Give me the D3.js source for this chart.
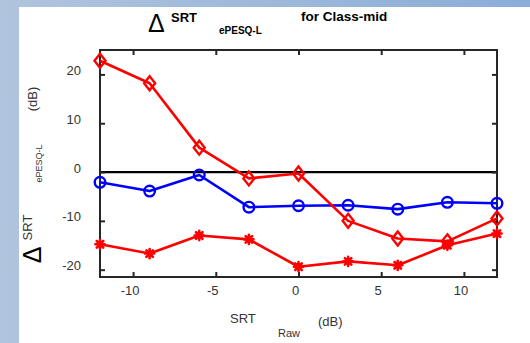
<!DOCTYPE html>
<html>
<head>
<meta charset="utf-8">
<script src="https://cdn.jsdelivr.net/npm/d3@7"></script>
<style>
  html, body { margin: 0; padding: 0; background: #fff; }
  svg { display: block; }
  text { font-family: "Liberation Sans", Arial, sans-serif; }
</style>
</head>
<body>
<svg id="chart" width="530" height="343"></svg>
<script>
// SNR levels (dB) at which the speech reception threshold was measured
const snrRaw = [-12, -9, -6, -3, 0, 3, 6, 9, 12];

// Delta SRT (ePESQ-L) per condition, in dB
const diamondSeries = [22.8, 18.2, 5.0, -1.3, -0.3, -10.0, -13.6, -14.2, -9.5];
const circleSeries  = [-2.1, -3.9, -0.6, -7.2, -6.9, -6.8, -7.6, -6.2, -6.4];
const starSeries    = [-14.8, -16.7, -13.0, -13.8, -19.4, -18.3, -19.1, -15.0, -12.6];

const xTicks = [-10, -5, 0, 5, 10];
const yTicks = [-20, -10, 0, 10, 20];
const xDomain = [-12, 12];
const yDomain = [-21.5, 25];

const svg = d3.select("#chart");
const W = 530, H = 343;
const plot = { left: 100, right: 497, top: 50, bottom: 277 };

// window background with the white figure panel on top
const defs = svg.append("defs");
const grad = defs.append("linearGradient").attr("id", "bg").attr("x1", "0").attr("x2", "1").attr("y1", "0").attr("y2", "0");
grad.append("stop").attr("offset", "0").attr("stop-color", "#b1c4dd");
grad.append("stop").attr("offset", "1").attr("stop-color", "#8badd8");
svg.append("rect").attr("width", W).attr("height", H).attr("fill", "url(#bg)");
svg.append("rect").attr("x", 19).attr("y", 7).attr("width", W - 19).attr("height", H - 7).attr("fill", "#fff");

const x = d3.scaleLinear().domain(xDomain).range([plot.left, plot.right]);
const y = d3.scaleLinear().domain(yDomain).range([plot.bottom, plot.top]);

const axisColor = "#262626";
const labelColor = "#333";
const plainNumber = d => String(d);   // hyphen-minus, as printed on the axes

// zero reference line
svg.append("line")
  .attr("x1", x(xDomain[0])).attr("x2", x(xDomain[1]))
  .attr("y1", y(0)).attr("y2", y(0))
  .attr("stroke", "#000").attr("stroke-width", 2.2);

// axes with inward ticks
function styleAxis(g) {
  g.select(".domain").remove();
  g.selectAll(".tick line").attr("stroke", axisColor).attr("stroke-width", 2);
  g.selectAll("text").attr("fill", labelColor).attr("font-size", 13)
    .attr("font-family", "'Liberation Sans', Arial, sans-serif");
}

const gx = svg.append("g").attr("transform", `translate(0,${plot.bottom})`)
  .call(d3.axisBottom(x).tickValues(xTicks).tickSizeInner(-5).tickSizeOuter(0).tickFormat(plainNumber))
  .call(styleAxis);
gx.selectAll("text").attr("y", 18).attr("dy", 0).attr("dx", -3.5);

svg.append("g").attr("transform", `translate(0,${plot.top})`)
  .call(d3.axisTop(x).tickValues(xTicks).tickSizeInner(-5).tickSizeOuter(0).tickFormat(""))
  .call(styleAxis);

const gy = svg.append("g").attr("transform", `translate(${plot.left},0)`)
  .call(d3.axisLeft(y).tickValues(yTicks).tickSizeInner(-5).tickSizeOuter(0).tickFormat(plainNumber))
  .call(styleAxis);
gy.selectAll("text").attr("x", -19).attr("dy", 0);

svg.append("g").attr("transform", `translate(${plot.right},0)`)
  .call(d3.axisRight(y).tickValues(yTicks).tickSizeInner(-5).tickSizeOuter(0).tickFormat(""))
  .call(styleAxis);

// plot box
svg.append("rect")
  .attr("x", plot.left).attr("y", plot.top)
  .attr("width", plot.right - plot.left).attr("height", plot.bottom - plot.top)
  .attr("fill", "none").attr("stroke", axisColor).attr("stroke-width", 2);

// series
const line = d3.line().x((d, i) => x(snrRaw[i])).y(d => y(d));

function drawLine(values, color) {
  svg.append("path").datum(values)
    .attr("d", line).attr("fill", "none")
    .attr("stroke", color).attr("stroke-width", 2.6).attr("stroke-linejoin", "round");
}

drawLine(circleSeries, "#0000ff");
drawLine(diamondSeries, "#ff0000");
drawLine(starSeries, "#ff0000");

// circle markers
svg.append("g").selectAll("circle").data(circleSeries).join("circle")
  .attr("cx", (d, i) => x(snrRaw[i])).attr("cy", d => y(d)).attr("r", 5.3)
  .attr("fill", "none").attr("stroke", "#0000ff").attr("stroke-width", 2.4);

// diamond markers
svg.append("g").selectAll("path").data(diamondSeries).join("path")
  .attr("transform", (d, i) => `translate(${x(snrRaw[i])},${y(d)})`)
  .attr("d", "M0,-7 L5.5,0 L0,7 L-5.5,0 Z")
  .attr("fill", "none").attr("stroke", "#ff0000").attr("stroke-width", 2.4).attr("stroke-linejoin", "miter");

// asterisk markers
const starPath = (() => {
  const r = 4.6, a = r * Math.SQRT1_2;
  return `M${-r},0L${r},0M0,${-r}L0,${r}M${-a},${-a}L${a},${a}M${-a},${a}L${a},${-a}`;
})();
svg.append("g").selectAll("path").data(starSeries).join("path")
  .attr("transform", (d, i) => `translate(${x(snrRaw[i])},${y(d)})`)
  .attr("d", starPath)
  .attr("fill", "none").attr("stroke", "#ff0000").attr("stroke-width", 2.6).attr("stroke-linecap", "round");

// title
svg.append("text").attr("x", 148).attr("y", 32).attr("font-size", 25)
  .attr("font-weight", "normal").attr("fill", "#000").text("Δ");
svg.append("text").attr("x", 171).attr("y", 22).attr("font-size", 13).attr("font-weight", "bold").attr("fill", "#000").text("SRT");
svg.append("text").attr("x", 219).attr("y", 34).attr("font-size", 10).attr("font-weight", "bold").attr("fill", "#000").text("ePESQ-L");
svg.append("text").attr("x", 301).attr("y", 21).attr("font-size", 13.5).attr("font-weight", "bold").attr("fill", "#000").text("for Class-mid");

// y label (rotated)
function vtext(px, py, size, str, color) {
  return svg.append("text").attr("transform", `translate(${px},${py}) rotate(-90)`)
    .attr("text-anchor", "middle").attr("font-size", size).attr("fill", color || labelColor).text(str);
}
vtext(37, 99, 13, "(dB)");
vtext(41.5, 163.5, 9, "ePESQ-L");
vtext(32, 227.5, 13, "SRT");
vtext(40.5, 255, 25, "Δ", "#000");

// x label
svg.append("text").attr("x", 230).attr("y", 323).attr("font-size", 13).attr("fill", labelColor).text("SRT");
svg.append("text").attr("x", 278).attr("y", 337).attr("font-size", 11).attr("fill", labelColor).text("Raw");
svg.append("text").attr("x", 318).attr("y", 326).attr("font-size", 13).attr("fill", labelColor).text("(dB)");
</script>
</body>
</html>
